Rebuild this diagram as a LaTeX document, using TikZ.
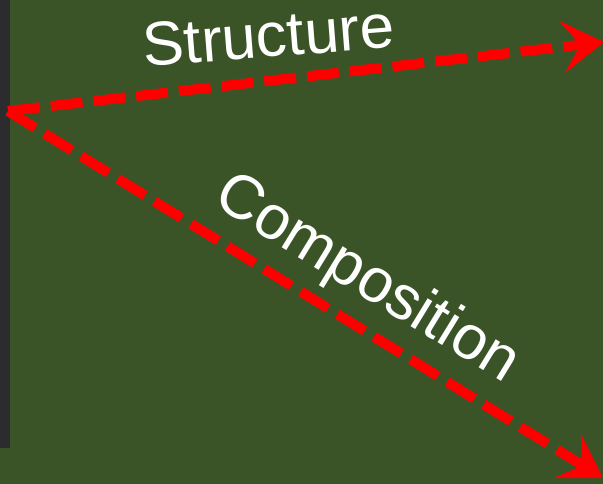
\documentclass[tikz,border=0pt]{standalone}
\usepackage{fontspec}
\setmainfont{Liberation Sans}
\usetikzlibrary{arrows.meta}

\definecolor{board}{RGB}{58,84,39}
\definecolor{strip}{RGB}{44,44,46}

\begin{document}
\begin{tikzpicture}[x=1pt, y=-1pt,
    link/.style={draw=red, line width=10pt, dash pattern=on 32pt off 11pt,
      -{Stealth[length=42pt, width=52pt, inset=18pt]}},
    word/.style={text=white, font=\fontsize{62}{74}\selectfont, inner sep=0pt, anchor=base}]
    % board and the dark edge on the left
    \fill[board] (0,0) rectangle (603,484);
    \useasboundingbox (0,0) rectangle (603,484);
    \fill[strip] (0,0) rectangle (10,448);

    \coordinate (src) at (8,111);
    \coordinate (top) at (604,42);
    \coordinate (bot) at (603,478);

    \draw[link] (src) -- (top);
    \draw[link] (src) -- (bot);

    \node[word, rotate=4.5] (structure) at (270,57) {Structure};
    \node[word, rotate=-31.5] (composition) at (358,294) {Composition};
\end{tikzpicture}
\end{document}
